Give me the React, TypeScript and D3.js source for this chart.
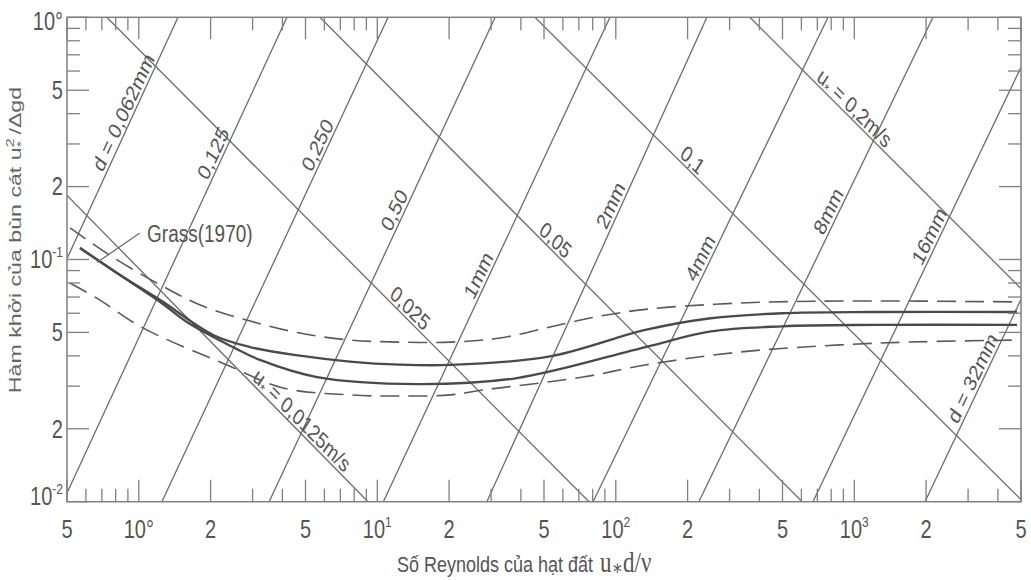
import React from 'react';
import * as d3 from 'd3';

// ---------------- data ----------------
const xTickValues = [0.5, 1, 2, 5, 10, 20, 50, 100, 200, 500, 1000, 2000, 5000];
const xTickLabels = ['5', '10°', '2', '5', '10^1', '2', '5', '10^2', '2', '5', '10^3', '2', '5'];
const yTickValues = [0.01, 0.02, 0.05, 0.1, 0.2, 0.5, 1];
const yTickLabels = ['10^-2', '2', '5', '10^-1', '2', '5', '10°'];

// constant grain-size lines (d): Re* where the line meets θ = 0.01 and θ = 1
const grainLabels = ['d = 0,062mm', '0,125', '0,250', '0,50', '1mm', '2mm', '4mm', '8mm', '16mm', 'd = 32mm'];
const grainReLow = [0.17, 0.481, 1.25, 3.52, 10.6, 28.8, 80.3, 223, 671, 1979];
const grainReHigh = [1.46, 4.18, 11.1, 31.2, 94.5, 241, 776, 2138, 6300, 18200];

// constant shear-velocity lines (u*): Re* where the line meets θ = 1 and θ = 0.01
const shearLabels = ['u* = 0,0125m/s', '0,025', '0,05', '0,1', 'u* = 0,2m/s'];
const shearReHigh = [0.0923, 0.734, 5.75, 45.8, 365];
const shearReLow = [9.14, 77.2, 604, 5100, 39100];

// curves
const upperBandRe = [0.515, 0.757, 1.23, 1.81, 2.93, 4.74, 7.68, 12.4, 20.2, 32.7, 53.0, 85.9, 139, 332, 871, 5000];
const upperBandTheta = [0.135, 0.104, 0.0785, 0.0649, 0.0557, 0.0497, 0.0465, 0.0456, 0.0456, 0.0474, 0.0526, 0.0584, 0.0625, 0.0661, 0.0674, 0.0668];

const upperCurveRe = [0.567, 0.834, 1.23, 2.05, 2.93, 4.74, 7.68, 12.4, 20.2, 53.0, 133, 250, 500, 1200, 4811];
const upperCurveTheta = [0.1115, 0.0863, 0.068, 0.0488, 0.0435, 0.0401, 0.0379, 0.0368, 0.0367, 0.0398, 0.0512, 0.0572, 0.0600, 0.0607, 0.0607];

const lowerCurveRe = [0.567, 0.834, 1.23, 1.59, 2.48, 3.22, 5.59, 14.7, 38.5, 133, 250, 500, 1200, 4811];
const lowerCurveTheta = [0.1115, 0.0863, 0.0668, 0.0552, 0.0435, 0.0385, 0.0327, 0.0306, 0.0324, 0.0435, 0.0505, 0.053, 0.0537, 0.0537];

const lowerBandRe = [0.515, 0.687, 1.04, 2.34, 4.02, 7.68, 12.4, 20.2, 27.7, 72.9, 133, 332, 871, 1664, 4952];
const lowerBandTheta = [0.08, 0.068, 0.0522, 0.0367, 0.0295, 0.0276, 0.0273, 0.0276, 0.0289, 0.0327, 0.0367, 0.0415, 0.0444, 0.0456, 0.0465];

const grassLabel = 'Grass(1970)';
const grassLeaderRe = [0.668, 1.01];
const grassLeaderTheta = [0.0972, 0.1287];

// ---------------- layout ----------------
const W = 1031;
const H = 580;
const PL = 67, PR = 1021, PT = 17.3, PB = 501.7;
const S = 1.25; // vertical stretch of lettering
const FONT = "'Liberation Sans', Arial, Helvetica, sans-serif";
const SERIF = "'Liberation Serif', 'DejaVu Serif', serif";
const TXT = '#555';
const LINE = '#6b6b6b';
const grainLabelTheta = [0.39, 0.264, 0.285, 0.1537, 0.0828, 0.1611, 0.0976, 0.1522, 0.12, 0.0311];
const shearLabelTheta = [0.0203, 0.059, 0.1126, 0.241, 0.395];
const grassLabelAt = [1.083, 0.118];

function parseLabel(s: string) {
  const i = s.indexOf('^');
  if (i < 0) return { base: s, sup: '' };
  return { base: s.slice(0, i), sup: s.slice(i + 1) };
}

function STxt(props: { x: number; y: number; angle?: number; size: number; anchor?: string; stretch?: number; dy?: string; family?: string; fill?: string; children: any }) {
  const { x, y, angle = 0, size, anchor = 'middle', stretch = S, dy = '0.35em', family = FONT, fill = TXT, children } = props;
  const a = (angle * Math.PI) / 180;
  const a0 = (Math.atan2(Math.sin(a) / stretch, Math.cos(a)) * 180) / Math.PI;
  return (
    <text
      transform={`translate(${x},${y}) scale(1,${stretch}) rotate(${a0})`}
      textAnchor={anchor as any}
      fontSize={size}
      fontFamily={family}
      fill={fill}
      dy={dy}
    >
      {children}
    </text>
  );
}

function tickSet(lo: number, hi: number) {
  const out: { v: number; major: boolean }[] = [];
  for (let e = -3; e <= 4; e++) {
    for (let m = 1; m <= 9; m++) {
      const v = m * Math.pow(10, e);
      if (v >= lo * 0.999 && v <= hi * 1.001) out.push({ v, major: m === 1 || m === 2 || m === 5 });
    }
  }
  return out;
}

export default function App() {
  const x = d3.scaleLog().domain([0.5, 5000]).range([PL, PR]);
  const y = d3.scaleLog().domain([0.01, 1]).range([PB, PT]);

  const line = d3
    .line<[number, number]>()
    .x((d) => x(d[0]))
    .y((d) => y(d[1]))
    .curve(d3.curveCatmullRom.alpha(0.5));
  const straight = d3
    .line<[number, number]>()
    .x((d) => x(d[0]))
    .y((d) => y(d[1]));

  const zip = (a: number[], b: number[]) => a.map((v, i) => [v, b[i]] as [number, number]);

  const xt = tickSet(0.5, 5000);
  const yt = tickSet(0.01, 1);
  const MAJ = 22, MIN = 13;

  const lineLabel = (p1: [number, number], p2: [number, number], theta: number, off: number) => {
    const x1 = x(p1[0]), y1 = y(p1[1]), x2 = x(p2[0]), y2 = y(p2[1]);
    const py = y(theta);
    const t = (py - y1) / (y2 - y1);
    const px = x1 + t * (x2 - x1);
    const a = Math.atan2(y2 - y1, x2 - x1);
    return { cx: px + off * Math.sin(a), cy: py - off * Math.cos(a), angle: (a * 180) / Math.PI };
  };

  return (
    <svg width={W} height={H} style={{ position: 'absolute', left: 0, top: 0, background: '#fff' }}>
      <defs>
        <clipPath id="plot">
          <rect x={PL} y={PT} width={PR - PL} height={PB - PT} />
        </clipPath>
      </defs>

      {/* construction lines */}
      <g clipPath="url(#plot)" stroke={LINE} strokeWidth={1.3} fill="none">
        {grainLabels.map((l, i) => (
          <path key={'g' + i} d={straight([[grainReLow[i], 0.01], [grainReHigh[i], 1]]) || ''} />
        ))}
        {shearLabels.map((l, i) => (
          <path key={'s' + i} d={straight([[shearReHigh[i], 1], [shearReLow[i], 0.01]]) || ''} />
        ))}
      </g>

      {/* curves */}
      <g clipPath="url(#plot)" fill="none">
        <path d={line(zip(upperBandRe, upperBandTheta)) || ''} stroke="#5a5a5a" strokeWidth={1.6} strokeDasharray="19 9" />
        <path d={line(zip(lowerBandRe, lowerBandTheta)) || ''} stroke="#5a5a5a" strokeWidth={1.6} strokeDasharray="19 9" />
        <path d={line(zip(upperCurveRe, upperCurveTheta)) || ''} stroke="#4a4a4a" strokeWidth={2.3} />
        <path d={line(zip(lowerCurveRe, lowerCurveTheta)) || ''} stroke="#4a4a4a" strokeWidth={2.3} />
        <path d={straight(zip(grassLeaderRe, grassLeaderTheta)) || ''} stroke={LINE} strokeWidth={1.3} />
      </g>

      {/* frame */}
      <rect x={PL} y={PT} width={PR - PL} height={PB - PT} fill="none" stroke="#808080" strokeWidth={1.5} />

      {/* ticks */}
      <g stroke="#808080" strokeWidth={1.3}>
        {xt.map((t, i) => (
          <g key={'xt' + i}>
            <line x1={x(t.v)} x2={x(t.v)} y1={PB} y2={PB - (t.major ? MAJ : MIN)} />
            <line x1={x(t.v)} x2={x(t.v)} y1={PT} y2={PT + (t.major ? MAJ : MIN)} />
          </g>
        ))}
        {yt.map((t, i) => (
          <g key={'yt' + i}>
            <line x1={PL} x2={PL + (t.major ? MAJ : MIN)} y1={y(t.v)} y2={y(t.v)} />
            <line x1={PR} x2={PR - (t.major ? MAJ : MIN)} y1={y(t.v)} y2={y(t.v)} />
          </g>
        ))}
      </g>

      {/* tick labels */}
      {xTickValues.map((v, i) => {
        const p = parseLabel(xTickLabels[i]);
        return (
          <STxt key={'xl' + i} x={x(v)} y={538} size={20} dy="0">
            {p.base}
            {p.sup && (
              <tspan dy={-9} fontSize={12}>
                {p.sup}
              </tspan>
            )}
          </STxt>
        );
      })}
      {yTickValues.map((v, i) => {
        const p = parseLabel(yTickLabels[i]);
        const yy = i === 0 ? y(v) - 5 : i === yTickValues.length - 1 ? y(v) + 4 : y(v);
        return (
          <STxt key={'yl' + i} x={63} y={yy} size={20} anchor="end">
            {p.base}
            {p.sup && (
              <tspan dy={-9} fontSize={12}>
                {p.sup}
              </tspan>
            )}
          </STxt>
        );
      })}

      {/* line labels */}
      {grainLabels.map((l, i) => {
        const L = lineLabel([grainReLow[i], 0.01], [grainReHigh[i], 1], grainLabelTheta[i], 10);
        return (
          <STxt key={'gl' + i} x={L.cx} y={L.cy} angle={L.angle} size={18}>
            {l}
          </STxt>
        );
      })}
      {shearLabels.map((l, i) => {
        const L = lineLabel([shearReHigh[i], 1], [shearReLow[i], 0.01], shearLabelTheta[i], 10);
        const starIdx = l.indexOf('*');
        return (
          <STxt key={'sl' + i} x={L.cx} y={L.cy} angle={L.angle} size={18}>
            {starIdx < 0 ? (
              l
            ) : (
              <>
                {l.slice(0, starIdx)}
                <tspan dy={4} fontSize={12}>*</tspan>
                <tspan dy={-4}>{l.slice(starIdx + 1)}</tspan>
              </>
            )}
          </STxt>
        );
      })}

      {/* Grass label */}
      <STxt x={x(grassLabelAt[0])} y={y(grassLabelAt[1])} size={19} anchor="start" dy="0">
        {grassLabel}
      </STxt>

      {/* axis titles */}
      <STxt x={397} y={572} size={18} anchor="start" dy="0">
        Số Reynolds của hạt đất
      </STxt>
      <STxt x={600} y={572} size={23} anchor="start" dy="0" family={SERIF}>
        u<tspan fontSize={17} dy={2}>∗</tspan>
        <tspan dy={-2}>d/ν</tspan>
      </STxt>
      <STxt x={21} y={240} size={16} angle={-90} stretch={1.45} dy="0" fill="#666">
        Hàm khởi của bùn cát u
        <tspan fontSize={11} dy={-7}>2</tspan>
        <tspan fontSize={11} dx={-6} dy={11}>*</tspan>
        <tspan dy={-4}> /Δgd</tspan>
      </STxt>
    </svg>
  );
}
